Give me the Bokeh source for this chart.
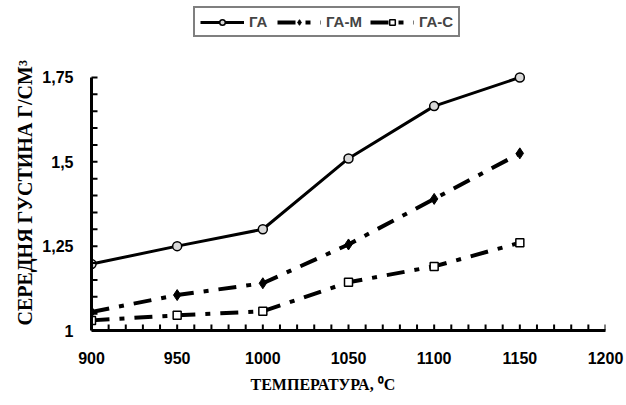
from bokeh.plotting import figure
from bokeh.models import FixedTicker, Legend, LegendItem, Range1d, Title
from bokeh.embed import file_html
from bokeh.resources import INLINE

temps = [900, 950, 1000, 1050, 1100, 1150]
ga = [1.197, 1.25, 1.30, 1.51, 1.665, 1.75]
ga_m = [1.055, 1.105, 1.14, 1.255, 1.39, 1.525]
ga_s = [1.03, 1.045, 1.057, 1.143, 1.19, 1.26]

x_ticks = [900, 950, 1000, 1050, 1100, 1150, 1200]
x_minor = list(range(900, 1201, 10))
y_ticks = [1.0, 1.25, 1.5, 1.75]
y_minor = [1.0 + 0.05 * i for i in range(16)]
y_tick_labels = ["1", "1,25", "1,5", "1,75"]
series_names = ["ГА", "ГА-М", "ГА-С"]
x_title = "ТЕМПЕРАТУРА, ⁰С"
y_title = "СЕРЕДНЯ ГУСТИНА Г/СМ³"

SANS = "Liberation Sans"
SERIF = "Liberation Serif"

X0, X1, Y0, Y1 = 900, 1200, 1.0, 1.978
p = figure(width=626, height=405, output_backend="svg", toolbar_location=None,
           x_range=Range1d(X0, X1), y_range=Range1d(Y0, Y1),
           min_border_left=91, min_border_right=21, min_border_top=0, min_border_bottom=75)
p.outline_line_color = None
p.xgrid.visible = False
p.ygrid.visible = False
p.background_fill_color = "white"
p.border_fill_color = "white"

r1 = p.line(temps, ga, line_color="black", line_width=3)
m1 = p.scatter(temps, ga, marker="circle", size=9, fill_color="#d9d9d9", line_color="black", line_width=1.5)
r2 = p.line(temps, ga_m, line_color="black", line_width=4, line_dash="18 10 5 10")
m2 = p.scatter(temps, ga_m, marker="diamond", size=11, fill_color="black", line_color="black")
r3 = p.line(temps, ga_s, line_color="black", line_width=4, line_dash="18 10 5 10")
m3 = p.scatter(temps, ga_s, marker="square", size=8, fill_color="white", line_color="black", line_width=1.5)

# inward tick marks drawn from the tick lists (half of each bar lies inside the frame)
p.rect(x=[X0] * len(y_minor), y=y_minor, width=12, height=2,
       width_units="screen", height_units="screen", fill_color="black", line_color=None)
p.rect(x=x_minor, y=[Y0] * len(x_minor), width=2, height=12,
       width_units="screen", height_units="screen", fill_color="black", line_color=None)

for ax in (p.xaxis[0], p.yaxis[0]):
    ax.axis_line_width = 3
    ax.axis_line_color = "black"
    ax.major_tick_in = 0
    ax.major_tick_out = 0
    ax.minor_tick_in = 0
    ax.minor_tick_out = 0
    ax.major_label_text_font = SANS
    ax.major_label_text_font_style = "bold"
    ax.major_label_text_font_size = "16px"
    ax.major_label_text_color = "black"

p.xaxis[0].ticker = FixedTicker(ticks=x_ticks)
p.yaxis[0].ticker = FixedTicker(ticks=y_ticks)
p.yaxis[0].bounds = (1.0, 1.75)
p.yaxis[0].major_label_overrides = {t: l for t, l in zip(y_ticks, y_tick_labels)}
p.xaxis[0].major_label_standoff = 21
p.yaxis[0].major_label_standoff = 18

p.add_layout(Title(text=y_title, align="left", offset=5, standoff=8,
                   text_font=SERIF, text_font_style="bold", text_font_size="20px",
                   text_color="black"), "left")
p.add_layout(Title(text=x_title, align="left", offset=159, standoff=14,
                   text_font=SERIF, text_font_style="bold", text_font_size="16px",
                   text_color="black"), "below")

legend = Legend(items=[LegendItem(label=series_names[0], renderers=[r1, m1]),
                       LegendItem(label=series_names[1], renderers=[r2, m2]),
                       LegendItem(label=series_names[2], renderers=[r3, m3])],
                orientation="horizontal", location=(102, 293),
                border_line_color="black", border_line_width=2,
                label_text_font=SANS, label_text_font_style="bold",
                label_text_font_size="15px", glyph_width=44, glyph_height=14,
                label_standoff=5, spacing=8, padding=5, margin=0,
                background_fill_alpha=1)
p.add_layout(legend, "center")

open("out.html", "w").write(file_html(p, INLINE))
